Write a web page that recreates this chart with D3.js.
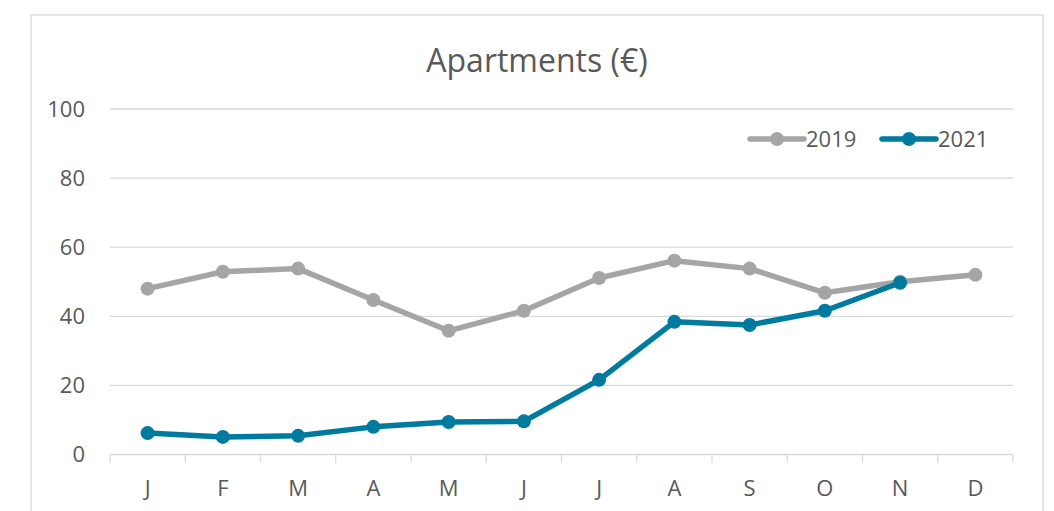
<!DOCTYPE html>
<html>
<head>
<meta charset="utf-8">
<style>
  body { margin: 0; background: #fff; }
  text { font-family: "Open Sans", "Liberation Sans", sans-serif; fill: #595959; }
</style>
</head>
<body>
<script src="https://cdn.jsdelivr.net/npm/d3@7"></script>
<script>
// data
var months = ["J","F","M","A","M","J","J","A","S","O","N","D"];
var y2019 = [48, 52.9, 53.8, 44.7, 35.8, 41.6, 51.1, 56.1, 53.8, 46.8, 50, 52];
var y2021 = [6.2, 5.1, 5.4, 8, 9.4, 9.6, 21.6, 38.4, 37.5, 41.6, 49.7];
var yTicks = [0, 20, 40, 60, 80, 100];
var seriesNames = ["2019", "2021"];
var colors = ["#A5A5A5", "#007A9E"];

var width = 1054, height = 511;
var svg = d3.select("body").append("svg")
    .attr("width", width)
    .attr("height", height);

// chart border
svg.append("rect")
    .attr("x", 31).attr("y", 15)
    .attr("width", 1012).attr("height", 520)
    .attr("fill", "none")
    .attr("stroke", "#D9D9D9")
    .attr("stroke-width", 1.3);

var pL = 110, pR = 1013, pT = 109, pB = 454.5;
var fs = 22;

var x = d3.scaleBand().domain(d3.range(12)).range([pL, pR]);
var y = d3.scaleLinear().domain([0, 100]).range([pB, pT]);

// grid
svg.append("g").selectAll("line")
    .data(yTicks.filter(d => d > 0))
    .join("line")
    .attr("x1", pL).attr("x2", pR)
    .attr("y1", d => y(d)).attr("y2", d => y(d))
    .attr("stroke", "#D9D9D9")
    .attr("stroke-width", 1.3);

// y labels
svg.append("g").selectAll("text")
    .data(yTicks)
    .join("text")
    .attr("x", 85)
    .attr("y", d => y(d))
    .attr("dy", "0.36em")
    .attr("text-anchor", "end")
    .attr("font-size", fs)
    .text(d => d);

// x axis
var xa = svg.append("g");
xa.append("line")
    .attr("x1", pL).attr("x2", pR)
    .attr("y1", pB).attr("y2", pB)
    .attr("stroke", "#D9D9D9").attr("stroke-width", 1.3);
xa.selectAll("line.tk")
    .data(d3.range(13))
    .join("line")
    .attr("class", "tk")
    .attr("x1", i => pL + i * x.step()).attr("x2", i => pL + i * x.step())
    .attr("y1", pB).attr("y2", pB + 8)
    .attr("stroke", "#D9D9D9").attr("stroke-width", 1.3);
xa.selectAll("text")
    .data(months)
    .join("text")
    .attr("x", (d, i) => x(i) + x.bandwidth() / 2)
    .attr("y", 488)
    .attr("dy", "0.36em")
    .attr("text-anchor", "middle")
    .attr("font-size", fs)
    .text(d => d);

// title
svg.append("text")
    .attr("x", 537).attr("y", 60)
    .attr("dy", "0.36em")
    .attr("text-anchor", "middle")
    .attr("font-size", 32)
    .text("Apartments (€)");

// series
var line = d3.line()
    .x((d, i) => x(i) + x.bandwidth() / 2)
    .y(d => y(d));

[y2019, y2021].forEach(function(vals, k) {
    var g = svg.append("g");
    g.append("path")
        .attr("d", line(vals))
        .attr("fill", "none")
        .attr("stroke", colors[k])
        .attr("stroke-width", 5.5)
        .attr("stroke-linejoin", "round")
        .attr("stroke-linecap", "round");
    g.selectAll("circle")
        .data(vals)
        .join("circle")
        .attr("cx", (d, i) => x(i) + x.bandwidth() / 2)
        .attr("cy", d => y(d))
        .attr("r", 7)
        .attr("fill", colors[k]);
});

// legend
var legX = [750, 882];
var leg = svg.append("g");
seriesNames.forEach(function(name, k) {
    var lx = legX[k], ly = 139;
    leg.append("line")
        .attr("x1", lx).attr("x2", lx + 54)
        .attr("y1", ly).attr("y2", ly)
        .attr("stroke", colors[k])
        .attr("stroke-width", 5.5)
        .attr("stroke-linecap", "round");
    leg.append("circle")
        .attr("cx", lx + 27).attr("cy", ly)
        .attr("r", 7)
        .attr("fill", colors[k]);
    leg.append("text")
        .attr("x", lx + 56).attr("y", ly)
        .attr("dy", "0.36em")
        .attr("font-size", fs)
        .text(name);
});
</script>
</body>
</html>
